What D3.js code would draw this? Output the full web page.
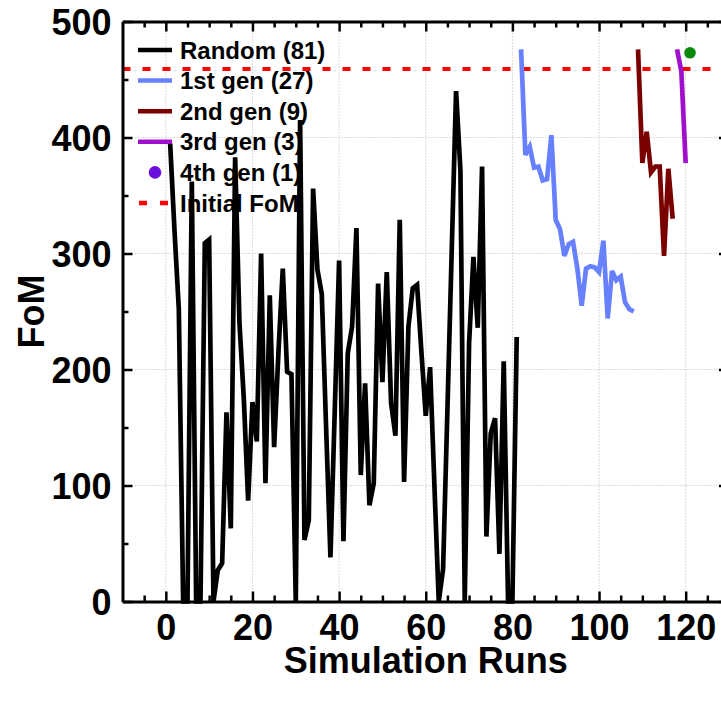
<!DOCTYPE html>
<html>
<head>
<meta charset="utf-8">
<script src="https://cdn.jsdelivr.net/npm/d3@7"></script>
<style>
  html, body { margin: 0; padding: 0; background: #fff; }
  svg { display: block; }
  text { font-family: "Liberation Sans", Arial, sans-serif; font-weight: bold; fill: #000; }
</style>
</head>
<body>
<svg id="chart" width="721" height="704"></svg>
<script>
// ---- data ----
const randomRuns = d3.range(1, 82);
const randomFoM = [395, 320, 252, 0, 0, 362, 0, 0, 309, 312,
  0, 27, 33, 163, 63, 383, 240, 175, 87, 172,
  138, 300, 102, 264, 133, 215, 287, 198, 196, 0,
  415, 53, 70, 356, 286, 265, 150, 38, 165, 294,
  52, 214, 237, 322, 109, 188, 83, 102, 274, 189,
  284, 171, 143, 329, 103, 237, 270, 273, 215, 160,
  202, 100, 0, 28, 165, 303, 440, 372, 0, 222,
  297, 236, 375, 56, 145, 158, 41, 207, 0, 0, 228];
const gen1Runs = d3.range(82, 109);
const gen1FoM = [476, 385, 392, 374, 375, 363, 364, 402, 329, 321,
  298, 308, 310, 287, 255, 287, 289, 288, 284, 311,
  244, 285, 277, 280, 258, 252, 250];
const gen2Runs = d3.range(109, 118);
const gen2FoM = [476, 378, 405, 370, 375, 375, 298, 373, 330];
const gen3Runs = [118, 119, 120];
const gen3FoM = [476, 457, 378];
const gen4Runs = [121];
const gen4FoM = [473];
const initialFoM = 459;

const xMajorTicks = [0, 20, 40, 60, 80, 100, 120];
const yMajorTicks = [0, 100, 200, 300, 400, 500];
const legendLabels = ["Random (81)", "1st gen (27)", "2nd gen (9)", "3rd gen (3)", "4th gen (1)", "Initial FoM"];

// ---- layout ----
const L = 122.5, R = 729, T = 21.5, B = 601.5;
const svg = d3.select("#chart");
const x = d3.scaleLinear().domain([-10, 130]).range([L, R]);
const y = d3.scaleLinear().domain([0, 500]).range([B, T]);

const xMinor = d3.range(-5, 131, 5).filter(v => v % 20 !== 0);
const yMinor = d3.range(50, 500, 100);

// grid
const grid = svg.append("g");
grid.selectAll(".gx").data(xMajorTicks).enter().append("line")
  .attr("x1", d => x(d)).attr("x2", d => x(d)).attr("y1", T).attr("y2", B)
  .attr("stroke", "#b8b8b8").attr("stroke-width", 1).attr("stroke-dasharray", "1,2");
grid.selectAll(".gy").data(yMajorTicks.filter(v => v > 0 && v < 500)).enter().append("line")
  .attr("x1", L).attr("x2", R).attr("y1", d => y(d)).attr("y2", d => y(d))
  .attr("stroke", "#b8b8b8").attr("stroke-width", 1).attr("stroke-dasharray", "1,2");

// initial FoM line
svg.append("line")
  .attr("x1", L).attr("x2", R).attr("y1", y(initialFoM)).attr("y2", y(initialFoM))
  .attr("stroke", "#ff0000").attr("stroke-width", 4).attr("stroke-dasharray", "8,12");

// series
const line = d3.line().x(d => x(d[0])).y(d => y(d[1]));
function drawSeries(runs, vals, color) {
  svg.append("path")
    .datum(runs.map((r, i) => [r, vals[i]]))
    .attr("d", line)
    .attr("fill", "none")
    .attr("stroke", color)
    .attr("stroke-width", 4.7)
    .attr("stroke-linejoin", "miter")
    .attr("stroke-miterlimit", 3);
}
drawSeries(randomRuns, randomFoM, "#000000");
drawSeries(gen1Runs, gen1FoM, "#6680ff");
drawSeries(gen2Runs, gen2FoM, "#7a0000");
drawSeries(gen3Runs, gen3FoM, "#a010cc");
svg.selectAll(".g4").data(gen4Runs.map((r, i) => [r, gen4FoM[i]])).enter().append("circle")
  .attr("cx", d => x(d[0])).attr("cy", d => y(d[1])).attr("r", 5.8)
  .attr("fill", "#0a8a0a");

// axes (ticks inward)
function styleAxis(g) {
  g.select(".domain").attr("stroke", "#000").attr("stroke-width", 3);
  g.selectAll(".tick line").attr("stroke", "#000").attr("stroke-width", 2.5);
}
const fs = 36;
// bottom
const gb = svg.append("g").attr("transform", `translate(0,${B})`);
gb.call(d3.axisBottom(x).tickValues(xMajorTicks).tickSizeInner(-10).tickSizeOuter(0).tickPadding(16));
gb.append("g").call(d3.axisBottom(x).tickValues(xMinor).tickSize(-6).tickFormat("")).select(".domain").remove();
styleAxis(gb);
gb.selectAll(".tick text").attr("font-size", fs).attr("font-family", "Liberation Sans, Arial, sans-serif")
  .attr("font-weight", "bold").attr("fill", "#000").attr("dy", "0").attr("y", 38);
// top
const gt = svg.append("g").attr("transform", `translate(0,${T})`);
gt.call(d3.axisTop(x).tickValues(xMajorTicks).tickSizeInner(-10).tickSizeOuter(0).tickFormat(""));
gt.append("g").call(d3.axisTop(x).tickValues(xMinor).tickSize(-6).tickFormat("")).select(".domain").remove();
styleAxis(gt);
// left
const gl = svg.append("g").attr("transform", `translate(${L},0)`);
gl.call(d3.axisLeft(y).tickValues(yMajorTicks).tickSizeInner(-10).tickSizeOuter(0));
gl.append("g").call(d3.axisLeft(y).tickValues(yMinor).tickSize(-6).tickFormat("")).select(".domain").remove();
styleAxis(gl);
gl.selectAll(".tick text").attr("font-size", fs).attr("font-family", "Liberation Sans, Arial, sans-serif")
  .attr("font-weight", "bold").attr("fill", "#000").attr("x", -11).attr("dy", "0.36em");
// right
const gr = svg.append("g").attr("transform", `translate(${R},0)`);
gr.call(d3.axisRight(y).tickValues(yMajorTicks).tickSizeInner(-10).tickSizeOuter(0).tickFormat(""));
gr.append("g").call(d3.axisRight(y).tickValues(yMinor).tickSize(-6).tickFormat("")).select(".domain").remove();
styleAxis(gr);

// axis titles
svg.append("text").attr("x", (L + R) / 2).attr("y", 673).attr("text-anchor", "middle")
  .attr("font-size", 36).text("Simulation Runs");
svg.append("text").attr("transform", `translate(44,${(T + B) / 2}) rotate(-90)`)
  .attr("text-anchor", "middle").attr("font-size", 36).text("FoM");

// legend
const legendColors = ["#000000", "#6680ff", "#7a0000", "#a010cc", "#6a10dc", "#ff0000"];
const lg = svg.append("g");
legendLabels.forEach((lab, i) => {
  const ly = 50 + i * 30.6;
  if (i === 4) {
    lg.append("circle").attr("cx", 155).attr("cy", ly).attr("r", 6.3).attr("fill", legendColors[i]);
  } else {
    const ln = lg.append("line").attr("x1", 138).attr("x2", 172).attr("y1", ly).attr("y2", ly)
      .attr("stroke", legendColors[i]).attr("stroke-width", 4.5);
    if (i === 5) ln.attr("stroke-dasharray", "8,13").attr("x1", 139);
  }
  lg.append("text").attr("x", 180).attr("y", ly).attr("dy", "0.36em")
    .attr("font-size", 24).text(lab);
});
</script>
</body>
</html>
